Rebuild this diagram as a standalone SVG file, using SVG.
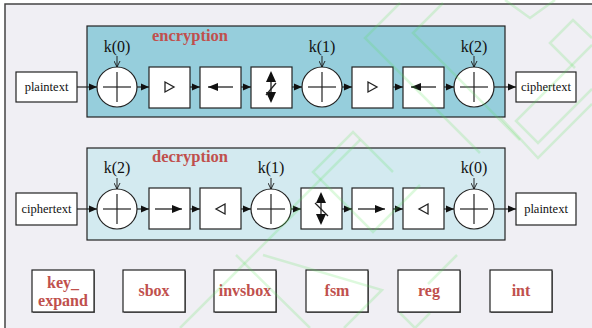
<svg xmlns="http://www.w3.org/2000/svg" width="592" height="328" viewBox="0 0 592 328">
<defs>
<marker id="ah" viewBox="0 0 8 8" refX="8" refY="4" markerWidth="8" markerHeight="8" markerUnits="userSpaceOnUse" orient="auto"><path d="M0,0.5 L8,4 L0,7.5 Z" fill="#111"/></marker>
<marker id="kv" viewBox="0 0 8 8" refX="7" refY="4" markerWidth="7" markerHeight="7" markerUnits="userSpaceOnUse" orient="auto"><path d="M0,0.5 L7,4 L0,7.5" fill="none" stroke="#111" stroke-width="1"/></marker>
<marker id="big" viewBox="0 0 10 8" refX="10" refY="4" markerWidth="10" markerHeight="8" markerUnits="userSpaceOnUse" orient="auto"><path d="M0,0 L10,4 L0,8 Z" fill="#111"/></marker>
</defs>
<style>
.lbl{font-family:"Liberation Serif",serif;font-size:12.5px;fill:#111;text-anchor:middle}
.k{font-family:"Liberation Serif",serif;font-size:16px;fill:#111;text-anchor:middle}
.title{font-family:"Liberation Serif",serif;font-size:16.5px;font-weight:bold;fill:#c0504d;text-anchor:middle}
.mod{font-family:"Liberation Serif",serif;font-size:16px;font-weight:bold;fill:#c0504d;text-anchor:middle}
.box{fill:#fff;stroke:#222;stroke-width:1.2}
.xor{fill:#fff;stroke:#222;stroke-width:1.2}
.cr{stroke:#222;stroke-width:1.2}
.conn{stroke:#222;stroke-width:1.2;fill:none;marker-end:url(#ah)}
.karr{stroke:#222;stroke-width:1;fill:none;marker-end:url(#kv)}
.sym{stroke:#222;stroke-width:1.3;fill:none}
.wm{fill:none;stroke:#55e055;stroke-width:2.5;opacity:0.2}
</style>
<rect x="0" y="0" width="592" height="328" fill="#ffffff"/>
<rect x="5" y="4" width="600" height="340" fill="#f0eff4" stroke="#444" stroke-width="1.5"/>

<g id="encryption">
<rect x="87" y="26" width="418" height="91" fill="#96cedc" stroke="#222" stroke-width="1.2"/>
<text class="title" x="190" y="41">encryption</text>
</g>
<g id="decryption">
<rect x="87" y="148" width="418" height="92" fill="#d3eaf0" stroke="#222" stroke-width="1.2"/>
<text class="title" x="190" y="162">decryption</text>
</g>

<g id="enc-plaintext"><rect class="box" x="16" y="72" width="61" height="30"/><text class="lbl" x="46.5" y="91">plaintext</text></g>
<g id="enc-xor0"><text class="k" x="117" y="52">k(0)</text><circle class="xor" cx="117" cy="87" r="20"/><line class="cr" x1="103" y1="87" x2="131" y2="87"/><line class="cr" x1="117" y1="72" x2="117" y2="102"/></g>
<g id="enc-sbox1"><rect class="box" x="149" y="67" width="41" height="41"/><path class="sym" d="M165,82 L174,87 L165,92 Z"/></g>
<g id="enc-shift1"><rect class="box" x="200" y="67" width="41" height="41"/><line class="sym" x1="233" y1="87" x2="208" y2="87" marker-end="url(#big)"/></g>
<g id="enc-mix"><rect class="box" x="251" y="67" width="41" height="41"/><line class="sym" x1="271" y1="80" x2="271" y2="94"/><path d="M271,71 L266,82 L276,82 Z" fill="#111"/><path d="M271,103 L266,92 L276,92 Z" fill="#111"/><line class="sym" x1="276" y1="83" x2="266" y2="95"/></g>
<g id="enc-xor1"><text class="k" x="322" y="52">k(1)</text><circle class="xor" cx="322" cy="87" r="20"/><line class="cr" x1="308" y1="87" x2="336" y2="87"/><line class="cr" x1="322" y1="72" x2="322" y2="102"/></g>
<g id="enc-sbox2"><rect class="box" x="352" y="67" width="41" height="41"/><path class="sym" d="M368,82 L377,87 L368,92 Z"/></g>
<g id="enc-shift2"><rect class="box" x="403" y="67" width="41" height="41"/><line class="sym" x1="436" y1="87" x2="411" y2="87" marker-end="url(#big)"/></g>
<g id="enc-xor2"><text class="k" x="474" y="52">k(2)</text><circle class="xor" cx="474" cy="87" r="20"/><line class="cr" x1="460" y1="87" x2="488" y2="87"/><line class="cr" x1="474" y1="72" x2="474" y2="102"/></g>
<g id="enc-ciphertext"><rect class="box" x="516" y="72" width="60" height="30"/><text class="lbl" x="546" y="91">ciphertext</text></g>

<g id="dec-ciphertext"><rect class="box" x="16" y="193" width="61" height="32"/><text class="lbl" x="46.5" y="213">ciphertext</text></g>
<g id="dec-xor2"><text class="k" x="117" y="173">k(2)</text><circle class="xor" cx="117" cy="209" r="20"/><line class="cr" x1="103" y1="209" x2="131" y2="209"/><line class="cr" x1="117" y1="194" x2="117" y2="224"/></g>
<g id="dec-shift1"><rect class="box" x="149" y="188" width="41" height="41"/><line class="sym" x1="155" y1="209" x2="182" y2="209" marker-end="url(#big)"/></g>
<g id="dec-sbox1"><rect class="box" x="200" y="188" width="41" height="41"/><path class="sym" d="M225,204 L216,209 L225,214 Z"/></g>
<g id="dec-xor1"><text class="k" x="271" y="173">k(1)</text><circle class="xor" cx="271" cy="209" r="20"/><line class="cr" x1="257" y1="209" x2="285" y2="209"/><line class="cr" x1="271" y1="194" x2="271" y2="224"/></g>
<g id="dec-mix"><rect class="box" x="301" y="188" width="41" height="41"/><line class="sym" x1="321" y1="201" x2="321" y2="216"/><path d="M321,192 L316,203 L326,203 Z" fill="#111"/><path d="M321,225 L316,214 L326,214 Z" fill="#111"/><line class="sym" x1="315" y1="203" x2="328" y2="216"/></g>
<g id="dec-shift2"><rect class="box" x="352" y="188" width="41" height="41"/><line class="sym" x1="358" y1="209" x2="385" y2="209" marker-end="url(#big)"/></g>
<g id="dec-sbox2"><rect class="box" x="403" y="188" width="41" height="41"/><path class="sym" d="M428,204 L419,209 L428,214 Z"/></g>
<g id="dec-xor0"><text class="k" x="474" y="173">k(0)</text><circle class="xor" cx="474" cy="209" r="20"/><line class="cr" x1="460" y1="209" x2="488" y2="209"/><line class="cr" x1="474" y1="194" x2="474" y2="224"/></g>
<g id="dec-plaintext"><rect class="box" x="516" y="193" width="60" height="32"/><text class="lbl" x="546" y="213">plaintext</text></g>

<g id="connectors">
<line class="conn" x1="77" y1="87" x2="97" y2="87"/>
<line class="conn" x1="137" y1="87" x2="149" y2="87"/>
<line class="conn" x1="190" y1="87" x2="200" y2="87"/>
<line class="conn" x1="241" y1="87" x2="251" y2="87"/>
<line class="conn" x1="292" y1="87" x2="302" y2="87"/>
<line class="conn" x1="342" y1="87" x2="352" y2="87"/>
<line class="conn" x1="393" y1="87" x2="403" y2="87"/>
<line class="conn" x1="444" y1="87" x2="454" y2="87"/>
<line class="conn" x1="494" y1="87" x2="516" y2="87"/>
<line class="karr" x1="117" y1="56" x2="117" y2="67"/>
<line class="karr" x1="322" y1="56" x2="322" y2="67"/>
<line class="karr" x1="474" y1="56" x2="474" y2="67"/>
<line class="conn" x1="77" y1="209" x2="97" y2="209"/>
<line class="conn" x1="137" y1="209" x2="149" y2="209"/>
<line class="conn" x1="190" y1="209" x2="200" y2="209"/>
<line class="conn" x1="241" y1="209" x2="251" y2="209"/>
<line class="conn" x1="291" y1="209" x2="301" y2="209"/>
<line class="conn" x1="342" y1="209" x2="352" y2="209"/>
<line class="conn" x1="393" y1="209" x2="403" y2="209"/>
<line class="conn" x1="444" y1="209" x2="454" y2="209"/>
<line class="conn" x1="494" y1="209" x2="516" y2="209"/>
<line class="karr" x1="117" y1="178" x2="117" y2="189"/>
<line class="karr" x1="271" y1="178" x2="271" y2="189"/>
<line class="karr" x1="474" y1="178" x2="474" y2="189"/>
</g>

<g id="key_expand"><rect x="33" y="271" width="62" height="42" fill="#777"/><rect class="box" x="32" y="270" width="62" height="42"/><text class="mod" x="63" y="288">key_</text><text class="mod" x="63" y="306">expand</text></g>
<g id="sbox"><rect x="124" y="271" width="62" height="42" fill="#777"/><rect class="box" x="123" y="270" width="62" height="42"/><text class="mod" x="154" y="296">sbox</text></g>
<g id="invsbox"><rect x="215" y="271" width="62" height="42" fill="#777"/><rect class="box" x="214" y="270" width="62" height="42"/><text class="mod" x="245" y="296">invsbox</text></g>
<g id="fsm"><rect x="307" y="271" width="62" height="42" fill="#777"/><rect class="box" x="306" y="270" width="62" height="42"/><text class="mod" x="337" y="296">fsm</text></g>
<g id="reg"><rect x="399" y="271" width="62" height="42" fill="#777"/><rect class="box" x="398" y="270" width="62" height="42"/><text class="mod" x="429" y="296">reg</text></g>
<g id="int"><rect x="491" y="271" width="62" height="42" fill="#777"/><rect class="box" x="490" y="270" width="62" height="42"/><text class="mod" x="521" y="296">int</text></g>

<g id="watermark">
<polyline class="wm" points="400,3 365,38 480,153"/>
<polyline class="wm" points="443,3 413,33 520,140"/>
<polyline class="wm" points="505,0 530,18 555,0"/>
<polyline class="wm" points="575,68 550,43 573,20 592,38"/>
<polyline class="wm" points="592,45 516,121 538,143 592,89"/>
<polyline class="wm" points="500,117 538,158 592,104"/>
<polyline class="wm" points="393,172 353,132 313,172 373,232 420,185"/>
<polyline class="wm" points="236,255 310,328"/>
<polyline class="wm" points="263,255 382,290 344,328"/>
<polyline class="wm" points="457,255 428,284"/>
<polyline class="wm" points="400,313 415,328 430,313"/>
<polyline class="wm" points="290,210 360,140"/>
<polyline class="wm" points="180,328 240,268 300,208"/>
</g>
</svg>
